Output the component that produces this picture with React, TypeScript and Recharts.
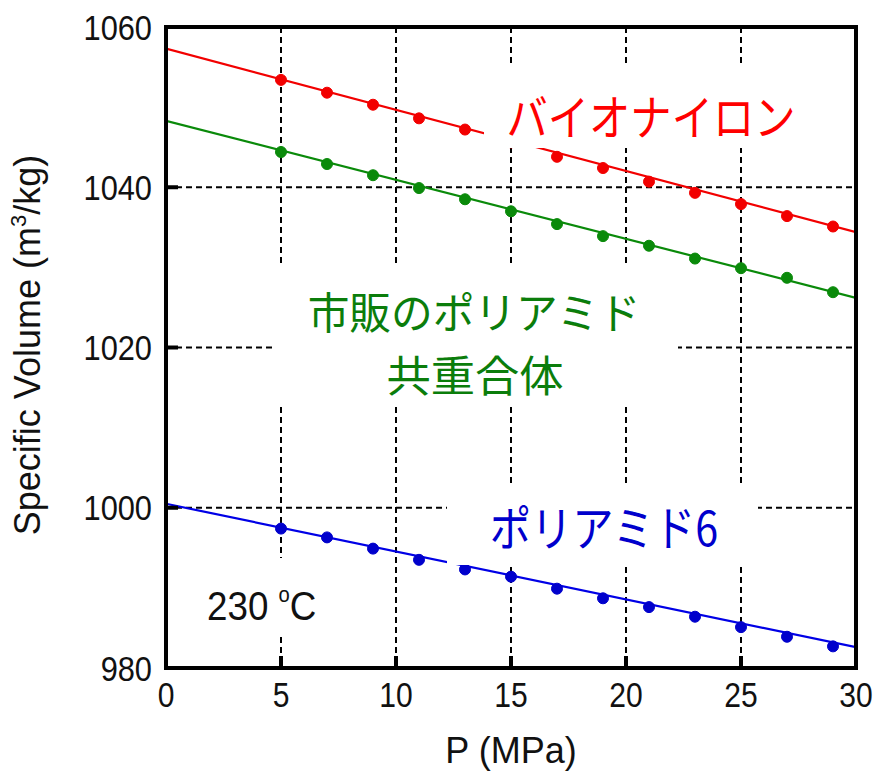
import React from 'react';
import { LineChart, Line, XAxis, YAxis, CartesianGrid } from 'recharts';

// Measured pressures (MPa)
const pressures = [5, 7, 9, 11, 13, 15, 17, 19, 21, 23, 25, 27, 29];
// Specific volume readings
const bioNylon = [1053.4, 1051.8, 1050.3, 1048.6, 1047.2, 1045.6, 1043.8, 1042.4, 1040.7, 1039.3, 1037.9, 1036.4, 1035.1];
const commercialPA = [1044.4, 1042.9, 1041.5, 1039.9, 1038.5, 1037.0, 1035.4, 1033.9, 1032.7, 1031.1, 1029.9, 1028.7, 1026.9];
const pa6 = [997.4, 996.3, 994.9, 993.5, 992.3, 991.4, 989.9, 988.7, 987.6, 986.4, 985.1, 983.9, 982.7];
// Linear fit end points
const fitPressures = [0, 30];
const bioNylonFit = [1057.3, 1034.4];
const commercialFit = [1048.3, 1026.2];
const pa6Fit = [1000.5, 982.6];

const xTicks = [0, 5, 10, 15, 20, 25, 30];
const yTicks = [980, 1000, 1020, 1040, 1060];

const RED = '#f20000';
const GREEN = '#0a8a0a';
const GREEN_TEXT = '#0b7d0b';
const BLUE = '#0000e6';
const BLUE_TEXT = '#0000cc';
const ARIAL = '"Liberation Sans", Arial, sans-serif';
const JP = '"Noto Sans CJK JP", "Noto Sans", sans-serif';

const toPts = (xs: number[], ys: number[]) => xs.map((p, i) => ({ p, v: ys[i] }));

const XTick = (props: any) => {
  const { x, y, payload } = props;
  return (
    <text
      transform={`translate(${x},${y}) scale(0.86,1)`}
      textAnchor="middle"
      dy="0.72em"
      fontFamily={ARIAL}
      fontSize={35}
      fill="#111"
      stroke="none"
    >
      {payload.value}
    </text>
  );
};

const YTick = (props: any) => {
  const { x, y, payload } = props;
  return (
    <text
      transform={`translate(${x},${y}) scale(0.88,1)`}
      textAnchor="end"
      dy="0.36em"
      fontFamily={ARIAL}
      fontSize={35}
      fill="#111"
      stroke="none"
    >
      {payload.value}
    </text>
  );
};

export default function App() {
  const axisStroke = { stroke: '#000', strokeWidth: 4 };
  return (
    <div style={{ position: 'absolute', left: 0, top: 0, width: 877, height: 783, background: '#fff' }}>
      <LineChart
        width={877}
        height={783}
        margin={{ top: 26, right: 20, bottom: 55, left: 66 }}
      >
        <CartesianGrid
          xAxisId="b"
          yAxisId="l"
          stroke="#000"
          strokeWidth={2}
          strokeDasharray="6 4"
        />
        <XAxis
          xAxisId="b"
          dataKey="p"
          type="number"
          domain={[0, 30]}
          ticks={xTicks}
          height={60}
          stroke="#000"
          strokeWidth={4}
          axisLine={axisStroke}
          tickLine={axisStroke}
          tickSize={-12}
          tickMargin={26}
          tick={<XTick />}
          interval={0}
          allowDataOverflow
        />
        <XAxis
          xAxisId="t"
          orientation="top"
          dataKey="p"
          type="number"
          domain={[0, 30]}
          ticks={xTicks}
          height={1}
          stroke="#000"
          strokeWidth={4}
          axisLine={axisStroke}
          tickLine={axisStroke}
          tickSize={-12}
          tick={false}
          interval={0}
          allowDataOverflow
        />
        <YAxis
          yAxisId="l"
          type="number"
          domain={[980, 1060]}
          ticks={yTicks}
          width={100}
          stroke="#000"
          strokeWidth={4}
          axisLine={axisStroke}
          tickLine={axisStroke}
          tickSize={-12}
          tickMargin={26}
          tick={<YTick />}
          interval={0}
          allowDataOverflow
        />
        <YAxis
          yAxisId="r"
          orientation="right"
          type="number"
          domain={[980, 1060]}
          ticks={yTicks}
          width={1}
          stroke="#000"
          strokeWidth={4}
          axisLine={axisStroke}
          tickLine={axisStroke}
          tickSize={-12}
          tick={false}
          interval={0}
          allowDataOverflow
        />

        <Line xAxisId="b" yAxisId="l" data={toPts(fitPressures, bioNylonFit)} dataKey="v" stroke={RED} strokeWidth={2.2} dot={false} isAnimationActive={false} />
        <Line xAxisId="b" yAxisId="l" data={toPts(fitPressures, commercialFit)} dataKey="v" stroke={GREEN} strokeWidth={2.2} dot={false} isAnimationActive={false} />
        <Line xAxisId="b" yAxisId="l" data={toPts(fitPressures, pa6Fit)} dataKey="v" stroke={BLUE} strokeWidth={2.2} dot={false} isAnimationActive={false} />

        <Line xAxisId="b" yAxisId="l" data={toPts(pressures, bioNylon)} dataKey="v" stroke="none" strokeWidth={0} dot={{ r: 5.5, fill: RED, stroke: RED, strokeWidth: 1 }} isAnimationActive={false} />
        <Line xAxisId="b" yAxisId="l" data={toPts(pressures, commercialPA)} dataKey="v" stroke="none" strokeWidth={0} dot={{ r: 5.5, fill: GREEN, stroke: GREEN, strokeWidth: 1 }} isAnimationActive={false} />
        <Line xAxisId="b" yAxisId="l" data={toPts(pressures, pa6)} dataKey="v" stroke="none" strokeWidth={0} dot={{ r: 5.5, fill: BLUE_TEXT, stroke: BLUE_TEXT, strokeWidth: 1 }} isAnimationActive={false} />
      </LineChart>

      <svg
        width={877}
        height={783}
        style={{ position: 'absolute', left: 0, top: 0, pointerEvents: 'none' }}
      >
        {/* white backgrounds behind annotations */}
        <rect x={484} y={66} width={322} height={82} fill="#fff" />
        <rect x={274} y={265} width={404} height={142} fill="#fff" />
        <rect x={447} y={483} width={311} height={82} fill="#fff" />
        <rect x={198} y={558} width={130} height={75} fill="#fff" />

        {/* plot frame */}
        <rect x={166} y={27} width={690} height={641} fill="none" stroke="#000" strokeWidth={4} />

        <text transform="translate(651,135) scale(0.86,1)" textAnchor="middle" fontFamily={JP} fontSize={48} fill="#ff0000">
          バイオナイロン
        </text>
        <text transform="translate(474,329) scale(0.97,1)" textAnchor="middle" fontFamily={JP} fontSize={43} fill={GREEN_TEXT}>
          市販のポリアミド
        </text>
        <text transform="translate(475,392) scale(1.03,1)" textAnchor="middle" fontFamily={JP} fontSize={43} fill={GREEN_TEXT}>
          共重合体
        </text>
        <text transform="translate(604,546) scale(0.86,1)" textAnchor="middle" fontFamily={JP} fontSize={48} fill={BLUE_TEXT}>
          ポリアミド6
        </text>

        <text transform="translate(207,620) scale(0.92,1)" fontFamily={ARIAL} fontSize={40} fill="#111">
          230 <tspan dy={-18} fontSize={22}>o</tspan><tspan dy={18}>C</tspan>
        </text>

        <text x={511} y={763} textAnchor="middle" fontFamily={ARIAL} fontSize={36} fill="#111">
          P (MPa)
        </text>
        <text transform="translate(40,345) rotate(-90)" textAnchor="middle" fontFamily={ARIAL} fontSize={36} fill="#111">
          Specific Volume (m<tspan dy={-14} fontSize={22}>3</tspan><tspan dy={14}>/kg)</tspan>
        </text>
      </svg>
    </div>
  );
}
